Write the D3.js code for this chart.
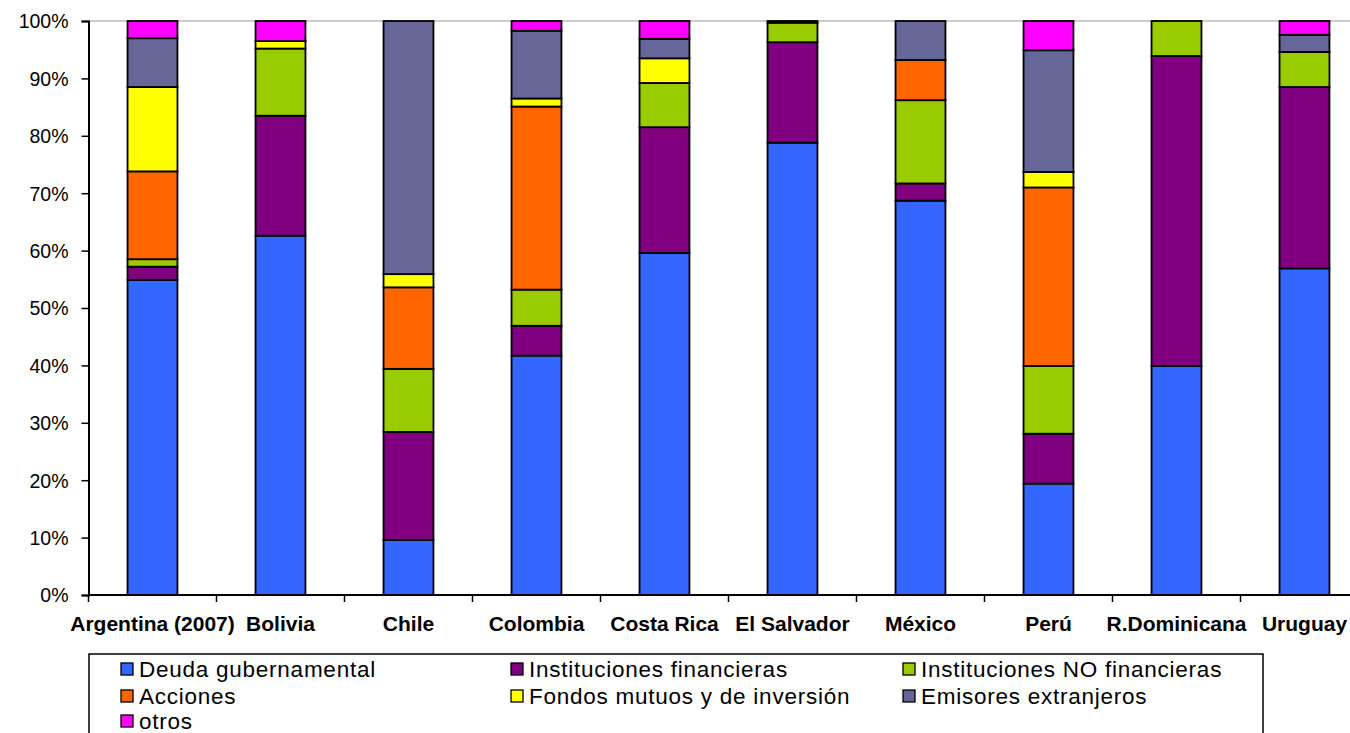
<!DOCTYPE html>
<html>
<head>
<meta charset="utf-8">
<script src="https://cdn.jsdelivr.net/npm/d3@7"></script>
<style>
  html, body { margin: 0; padding: 0; background: #fff; overflow: hidden; }
  svg { display: block; font-family: "Liberation Sans", Arial, sans-serif; }
</style>
</head>
<body>
<svg id="chart" width="1350" height="733"></svg>
<script>
// Países
const categories = ["Argentina (2007)", "Bolivia", "Chile", "Colombia", "Costa Rica",
                    "El Salvador", "México", "Perú", "R.Dominicana", "Uruguay"];

// Series (porcentaje de la cartera), de abajo hacia arriba
const seriesNames = ["Deuda gubernamental", "Instituciones financieras", "Instituciones NO financieras",
                     "Acciones", "Fondos mutuos y de inversión", "Emisores extranjeros", "otros"];
const deudaGubernamental      = [54.9, 62.6,  9.6, 41.7, 59.6, 78.8, 68.7, 19.4, 39.9, 56.9];
const institucionesFinancieras = [ 2.3, 20.9, 18.8,  5.2, 21.9, 17.5,  3.0,  8.7, 54.0, 31.6];
const institucionesNoFinancieras = [1.3, 11.7, 11.0, 6.3,  7.7,  3.4, 14.5, 11.8,  6.1,  6.1];
const acciones                = [15.3,  0.0, 14.2, 31.9,  0.0,  0.0,  7.0, 31.1,  0.0,  0.0];
const fondosMutuos            = [14.7,  1.3,  2.3,  1.4,  4.3,  0.0,  0.0,  2.7,  0.0,  0.0];
const emisoresExtranjeros     = [ 8.5,  0.0, 44.1, 11.8,  3.4,  0.3,  6.8, 21.2,  0.0,  3.0];
const otros                   = [ 3.0,  3.5,  0.0,  1.7,  3.1,  0.0,  0.0,  5.1,  0.0,  2.4];

const yTicks = [0, 0.1, 0.2, 0.3, 0.4, 0.5, 0.6, 0.7, 0.8, 0.9, 1.0];

const colors = ["#3366FF", "#800080", "#99CC00", "#FF6600", "#FFFF00", "#666699", "#FF00FF"];

const seriesValues = [deudaGubernamental, institucionesFinancieras, institucionesNoFinancieras,
                      acciones, fondosMutuos, emisoresExtranjeros, otros];

const rows = categories.map((c, i) => {
  const r = { pais: c };
  seriesNames.forEach((s, k) => { r[s] = seriesValues[k][i]; });
  return r;
});

const stacked = d3.stack().keys(seriesNames).offset(d3.stackOffsetExpand)(rows);

const svg = d3.select("#chart");
const plotLeft = 88.5, plotTop = 21, plotBottom = 595;
const step = 128;

const x = d3.scaleBand()
  .domain(categories)
  .range([plotLeft, plotLeft + step * categories.length])
  .paddingInner(0.61)
  .paddingOuter(0.305);

const y = d3.scaleLinear().domain([0, 1]).range([plotBottom, plotTop]);

const color = d3.scaleOrdinal().domain(seriesNames).range(colors);

// Línea superior del área de trazado
svg.append("line")
  .attr("x1", plotLeft).attr("x2", 1350)
  .attr("y1", y(1)).attr("y2", y(1))
  .attr("stroke", "#999").attr("stroke-width", 1.2);

// Barras apiladas
svg.append("g").selectAll("g")
  .data(stacked)
  .join("g")
  .attr("fill", d => color(d.key))
  .selectAll("rect")
  .data(d => d.filter(p => p[1] - p[0] > 0))
  .join("rect")
  .attr("x", d => x(d.data.pais))
  .attr("width", x.bandwidth())
  .attr("y", d => y(d[1]))
  .attr("height", d => y(d[0]) - y(d[1]))
  .attr("stroke", "#000")
  .attr("stroke-width", 1.8);

// Eje Y
const yAxis = svg.append("g")
  .attr("transform", `translate(${plotLeft},0)`)
  .call(d3.axisLeft(y).tickValues(yTicks).tickFormat(d3.format(".0%")).tickSize(7).tickPadding(13));
yAxis.select(".domain").attr("stroke", "#000").attr("stroke-width", 2);
yAxis.selectAll(".tick line").attr("stroke", "#000").attr("stroke-width", 1.5);
yAxis.selectAll(".tick text")
  .attr("font-size", 19.5)
  .attr("font-family", "'Liberation Sans', Arial, sans-serif")
  .attr("fill", "#000")
  .attr("dy", "0.35em");

// Eje X
const xAxisG = svg.append("g");
xAxisG.append("line")
  .attr("x1", plotLeft).attr("x2", 1350)
  .attr("y1", plotBottom).attr("y2", plotBottom)
  .attr("stroke", "#000").attr("stroke-width", 2);
const boundaries = categories.map(c => x(c) - (x.step() - x.bandwidth()) / 2);
xAxisG.selectAll("line.tick")
  .data(boundaries)
  .join("line")
  .attr("class", "tick")
  .attr("x1", d => d).attr("x2", d => d)
  .attr("y1", plotBottom).attr("y2", plotBottom + 7)
  .attr("stroke", "#000").attr("stroke-width", 1.5);
xAxisG.selectAll("text")
  .data(categories)
  .join("text")
  .attr("x", d => x(d) + x.bandwidth() / 2)
  .attr("y", 631)
  .attr("text-anchor", "middle")
  .attr("font-size", 21)
  .attr("font-weight", "bold")
  .attr("fill", "#000")
  .text(d => d);

// Leyenda
const legend = svg.append("g");
legend.append("rect")
  .attr("x", 89).attr("y", 654)
  .attr("width", 1174).attr("height", 100)
  .attr("fill", "#fff").attr("stroke", "#000").attr("stroke-width", 1.5);

const colX = [121, 511, 903];
const rowY = [677, 704, 729];
const items = legend.selectAll("g.item")
  .data(seriesNames)
  .join("g")
  .attr("class", "item")
  .attr("transform", (d, i) => `translate(${colX[i % 3]},${rowY[Math.floor(i / 3)]})`);
items.append("rect")
  .attr("x", 0).attr("y", -14)
  .attr("width", 12).attr("height", 12)
  .attr("fill", d => color(d))
  .attr("stroke", "#000").attr("stroke-width", 1.3);
items.append("text")
  .attr("x", 18).attr("y", 0)
  .attr("font-size", 22.5)
  .attr("letter-spacing", 0.75)
  .attr("fill", "#000")
  .text(d => d);
</script>
</body>
</html>
